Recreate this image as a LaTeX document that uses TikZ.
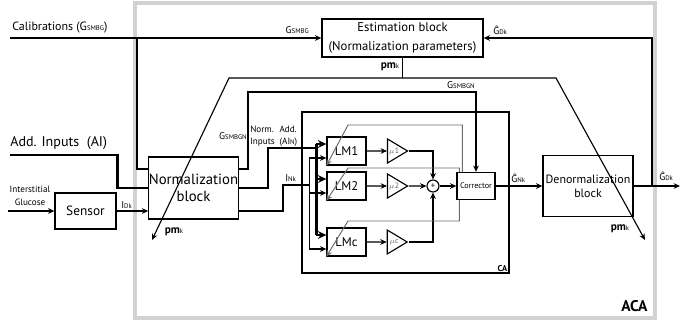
\documentclass[tikz,border=0pt]{standalone}
\usepackage{fontspec}
\setmainfont{PT Sans}
\usepackage{tikz}
\usetikzlibrary{positioning, calc, arrows.meta}
\usepgflibrary{shapes.geometric}
\newcommand\fs[1]{\fontsize{#1}{#1}\selectfont}
\newcommand\lo[1]{{\fs{4.8}#1}}
\newcommand\pmk{{\bfseries pm}\lo{k}}

\begin{document}
\begin{tikzpicture}[x=0.025cm, y=-0.025cm, >={Stealth[length=4.5pt, width=4pt]},
                blk/.style={draw, line width=0.9pt, inner sep=0pt, align=center},
                sz/.style 2 args={minimum width=#1*0.025cm, minimum height=#2*0.025cm},
                ln/.style={line width=0.8pt},
                bus/.style={line width=2pt},
                busarr/.style={bus, -{Stealth[length=6pt, width=5.5pt]}},
                adapt/.style={line width=0.7pt, gray!85!black, ->},
                tri/.style={draw, isosceles triangle, isosceles triangle stretches, line width=0.8pt,
                            inner sep=0pt, sz={24}{20}, text=gray!80!black, font=\fs{5.5}},
                lbl/.style={inner sep=0pt, font=\fs{7}}]
                \useasboundingbox (0,0) rectangle (700,323);
                \node [draw=gray!35, line width=2.5pt, sz={520}{315}] at (395,160.5) (aca) {};
                \node [anchor=south east, inner sep=0pt, font=\bfseries\fs{11}] at ($(aca.south east)+(-9,-8)$) (acalbl) {ACA};
                \node [draw, line width=1.8pt, sz={207}{161}] at (405.5,192.5) (ca) {};
                \node [anchor=south east, inner sep=2pt, font=\bfseries\fs{6}] at (ca.south east) (calbl) {CA};

                \node [blk, sz={161}{38}, font=\fontsize{9}{13}\selectfont] at (402.5,38) (est) {Estimation block\\(Normalization parameters)};
                \node [blk, sz={89}{62}, font=\fontsize{10.5}{12.5}\selectfont] at (193.5,188) (norm) {Normalization\\block};
                \node [blk, sz={61}{36}, font=\fs{9.5}] at (85.5,211) (sensor) {Sensor};
                \node [blk, sz={90}{61}, font=\fontsize{8.5}{10}\selectfont] at (588,186) (denorm) {Denormalization\\block};

                \foreach \n/\y/\m in {lm1/151/1, lm2/186/2, lmc/242/c}{
                  \node [blk, sz={39}{28}, font=\fs{9}] at (346.5,\y) (\n) {LM\m};
                  \node [tri] at (394,\y) (mu\m) {$\mu$\m};
                  \draw [ln, ->] (\n) -- (mu\m);
                  \draw [busarr] ($(\n.west)+(-10,-7)$) -- ($(\n.west)+(0,-7)$);
                  \draw [ln, ->] ($(\n.west)+(-17,7)$) -- ($(\n.west)+(0,7)$);
                }
                \draw [bus] ($(lm1.west)+(-10,-7)$) -- ($(lmc.west)+(-10,-7)$);
                \draw [ln] ($(lm1.west)+(-17,7)$) -- ($(lmc.west)+(-17,7)$);

                \node [circle, draw, line width=0.8pt, minimum size=0.3cm, inner sep=0pt, font=\fs{6}] at (433,186) (sum) {+};
                \node [blk, sz={38}{27}, font=\fs{5.8}] at (476,186) (corr) {Corrector};
                \draw [ln, ->] (mu1.east) -| (sum.north);
                \draw [ln, ->] (mu2.east) -- (sum.west);
                \draw [ln, ->] (muc.east) -| (sum.south);
                \draw [ln, ->] (sum) -- (corr);
                \draw [ln, ->] (corr) -- (denorm);

                \coordinate (t1) at (348,125);
                \coordinate (t2) at (348,168);
                \coordinate (t3) at (348,221);
                \draw [adapt] ($(corr.north west)+(6,0)$) |- (t1) -- (lm1.south west);
                \draw [adapt] ($(corr.north west)+(3,0)$) |- (t2) -- (lm2.south west);
                \draw [adapt] ($(corr.south west)+(3,0)$) |- (t3) -- (lmc.south west);

                \coordinate (cal) at (10,38);
                \coordinate (calb) at (137,38);
                \draw [ln, ->] (cal) -- (est.west);
                \draw [ln] (calb) |- ($(norm.west)+(0,-19)$);
                \coordinate (ai) at (10,155);
                \draw [bus] (ai) -| ($(norm.west)+(-31,0)$) -- (norm.west);
                \coordinate (ig) at (8,211);
                \draw [ln, ->] (ig) -- (sensor.west);
                \draw [ln, ->] (sensor.east) -- (sensor.east -| norm.west);

                \coordinate (gn) at (248,92);
                \draw [ln, ->] ($(norm.east)+(0,-19)$) -| (gn) -| (corr.north);
                \coordinate (ain) at (268,148);
                \draw [bus] (norm.east) -| (ain) -- ($(lm1.west)+(-10,-3)$);
                \coordinate (ink) at (283,185);
                \draw [ln] ($(norm.east)+(0,23)$) -| (ink) -- ($(lm2.west)+(-17,-1)$);

                \coordinate (pl) at (229,78);
                \coordinate (pr) at (556,78);
                \coordinate (plend) at (152,240);
                \coordinate (prend) at (645,240);
                \draw [ln] (est.south) -- (est.south |- pl);
                \draw [ln, <->] (plend) -- (pl) -- (pr) -- (prend);

                \coordinate (out) at (680,186);
                \coordinate (fb) at (652,186);
                \draw [ln, ->] (denorm.east) -- (out);
                \draw [ln, ->] (fb) |- (est.east);

                \node [lbl, anchor=west, font=\fs{8.5}] at (12,28) (lcal) {Calibrations (G\lo{SMBG})};
                \node [lbl, anchor=east] at (309,30) (lgs1) {G\lo{SMBG}};
                \node [lbl, anchor=west, font=\fs{10}] at (10,143) (lai) {Add. Inputs~ (AI)};
                \node [lbl, align=center, font=\fontsize{6.5}{9.5}\selectfont] at (30,196) (lig) {Interstitial\\Glucose};
                \node [lbl, anchor=west] at (121,205) (lidk) {I\lo{Dk}};
                \node [lbl, anchor=east] at (247,136) (lgsn1) {G\lo{SMBGN}};
                \node [lbl, anchor=west, align=left, font=\fontsize{6.5}{8.5}\selectfont] at (250,136) (lnain) {Norm.~ Add.\\Inputs~ (AI\lo{N})};
                \node [lbl, anchor=west] at (285,178) (link) {I\lo{Nk}};
                \node [lbl, anchor=east] at (475,85) (lgsn2) {G\lo{SMBGN}};
                \node [lbl, anchor=west] at (493,30) (lgd1) {\^G\lo{Dk}};
                \node [lbl, anchor=west] at (511,178) (lgn) {\^G\lo{Nk}};
                \node [lbl, anchor=west] at (659,176) (lgd2) {\^G\lo{Dk}};
                \node [lbl, font=\fs{8}] at (390,67) (lpm1) {\pmk};
                \node [lbl, font=\fs{8}] at (174,232) (lpm2) {\pmk};
                \node [lbl, font=\fs{8}] at (620,229) (lpm3) {\pmk};
            \end{tikzpicture}
\end{document}
